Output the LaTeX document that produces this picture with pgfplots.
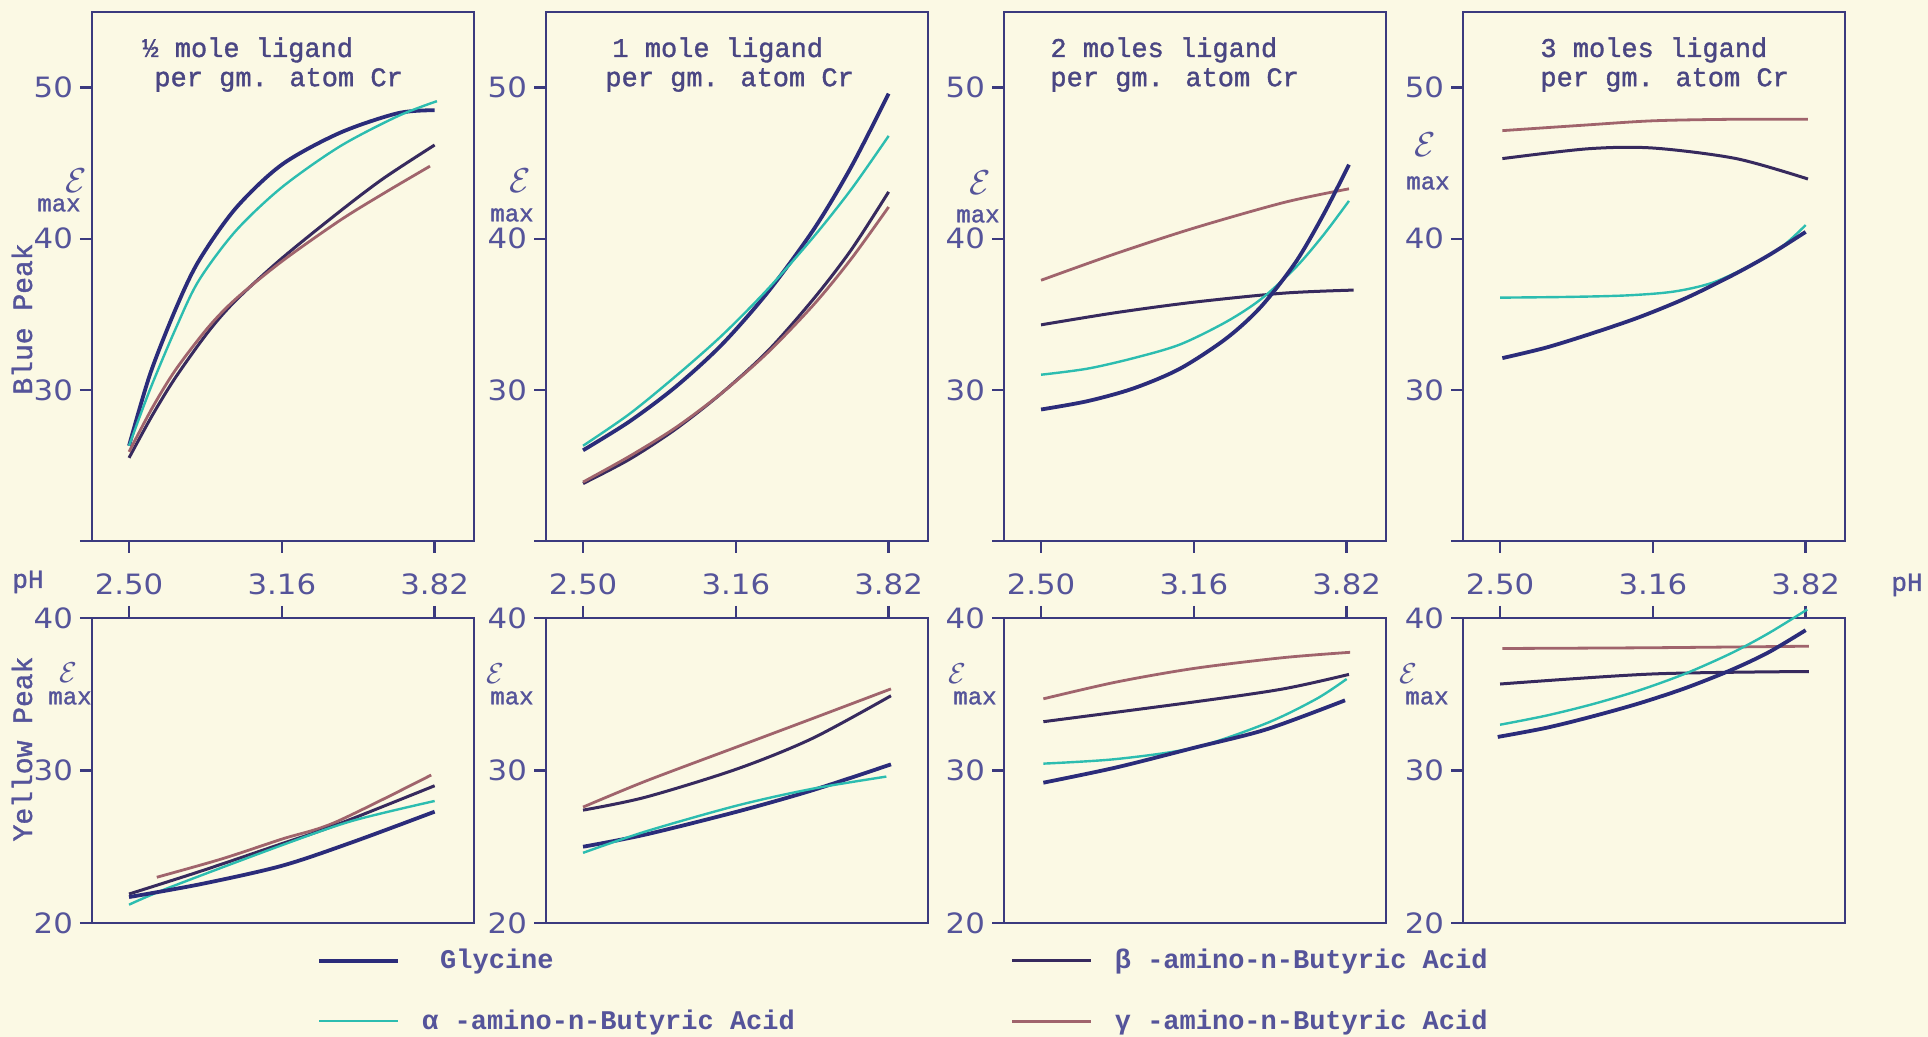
\documentclass[border=0pt]{standalone}
\usepackage{pgfplots}
\pgfplotsset{compat=1.18}
\usepackage{fontspec}
\setmainfont{Liberation Mono}
\newfontfamily\typefont{Liberation Mono}[FakeBold=1.3]
\newfontfamily\numfont{DejaVu Sans}[FakeStretch=1.1]
\definecolor{paper}{HTML}{FBF9E4}
\definecolor{frame}{HTML}{3B3A7E}
\definecolor{ink}{HTML}{55549A}
\definecolor{titleink}{HTML}{4A4683}
\definecolor{cGly}{HTML}{2B2C7A}
\definecolor{cAlp}{HTML}{2CBDB0}
\definecolor{cBet}{HTML}{372A5E}
\definecolor{cGam}{HTML}{A0646C}

\pgfplotsset{
  sGly/.style={color=cGly, line width=1.9pt},
  sAlp/.style={color=cAlp, line width=1.2pt},
  sBet/.style={color=cBet, line width=1.5pt},
  sGam/.style={color=cGam, line width=1.4pt},
  panel/.style={
    scale only axis, width=191pt, anchor=south west,
    xmin=2.34, xmax=3.99, xtick={2.50,3.16,3.82},
    axis line style={frame, line width=1.4pt},
    tick style={frame, line width=1.2pt},
    major tick length=6pt, tick align=outside,
    ytick pos=left,
    tick label style={font=\numfont\fontsize{14}{14}\selectfont, text=ink},
    clip=false, no markers,
    every axis plot/.append style={smooth},
  },
  toprow/.style={panel, height=264.5pt, ymin=20, ymax=55,
    ytick={20,30,40,50}, yticklabels={{},30,40,50},
    xtick pos=left, xticklabels={}},
  botrow/.style={panel, height=152.5pt, ymin=20, ymax=40,
    ytick={20,30,40}, yticklabels={20,30,40},
    xtick pos=right, xticklabel pos=right,
    xticklabels={2.50,3.16,3.82},
    xticklabel style={yshift=2pt}},
}

\begin{document}
\begin{tikzpicture}
\fill[paper] (0,0) rectangle (964pt,518.5pt);
\useasboundingbox (0,0) rectangle (964pt,518.5pt);

% ---------------- top row (Blue Peak) ----------------
\begin{axis}[toprow, at={(46pt,248pt)}]
\addplot[sGly] coordinates {(2.50,26.3) (2.59,31.0) (2.70,35.3) (2.80,38.5) (2.96,42.0) (3.16,44.9) (3.41,47.0) (3.66,48.3) (3.82,48.5)};
\addplot[sAlp] coordinates {(2.50,26.3) (2.59,30.0) (2.70,34.0) (2.80,37.2) (2.96,40.5) (3.16,43.4) (3.41,46.1) (3.66,48.1) (3.83,49.1)};
\addplot[sBet] coordinates {(2.50,25.5) (2.60,28.3) (2.70,30.8) (2.84,33.8) (2.96,35.9) (3.16,38.7) (3.41,41.8) (3.60,44.0) (3.82,46.2)};
\addplot[sGam] coordinates {(2.50,25.9) (2.60,28.8) (2.70,31.3) (2.84,34.1) (2.96,36.0) (3.16,38.5) (3.41,41.2) (3.60,43.0) (3.80,44.8)};
\end{axis}

\begin{axis}[toprow, at={(273pt,248pt)}]
\addplot[sGly] coordinates {(2.50,26.0) (2.70,27.9) (2.90,30.2) (3.10,33.0) (3.30,36.5) (3.50,40.7) (3.66,44.8) (3.82,49.6)};
\addplot[sAlp] coordinates {(2.50,26.3) (2.70,28.4) (2.90,30.9) (3.10,33.6) (3.30,36.7) (3.50,40.2) (3.66,43.3) (3.82,46.8)};
\addplot[sBet] coordinates {(2.50,23.8) (2.70,25.4) (2.90,27.4) (3.10,29.8) (3.30,32.6) (3.50,36.1) (3.66,39.3) (3.82,43.1)};
\addplot[sGam] coordinates {(2.50,23.9) (2.70,25.6) (2.90,27.5) (3.10,29.8) (3.30,32.5) (3.50,35.7) (3.66,38.7) (3.82,42.1)};
\end{axis}

\begin{axis}[toprow, at={(502pt,248pt)}]
\addplot[sGam] coordinates {(2.50,37.25) (2.82,39.0) (3.16,40.7) (3.55,42.4) (3.83,43.3)};
\addplot[sBet] coordinates {(2.50,34.3) (2.82,35.1) (3.16,35.8) (3.55,36.4) (3.85,36.6)};
\addplot[sAlp] coordinates {(2.50,31.0) (2.70,31.4) (2.90,32.1) (3.10,33.0) (3.30,34.5) (3.45,36.0) (3.60,38.1) (3.72,40.25) (3.83,42.5)};
\addplot[sGly] coordinates {(2.50,28.7) (2.70,29.25) (2.90,30.1) (3.10,31.4) (3.30,33.4) (3.45,35.5) (3.60,38.45) (3.72,41.6) (3.83,44.9)};
\end{axis}

\begin{axis}[toprow, at={(731.5pt,248pt)}]
\addplot[sGam] coordinates {(2.51,47.15) (2.85,47.5) (3.16,47.8) (3.50,47.9) (3.83,47.9)};
\addplot[sBet] coordinates {(2.51,45.3) (2.88,45.95) (3.16,46.0) (3.52,45.3) (3.83,43.95)};
\addplot[sAlp] coordinates {(2.50,36.1) (2.80,36.15) (3.05,36.25) (3.25,36.5) (3.42,37.1) (3.59,38.3) (3.72,39.5) (3.82,40.9)};
\addplot[sGly] coordinates {(2.51,32.1) (2.70,32.8) (2.90,33.75) (3.10,34.8) (3.30,36.05) (3.50,37.55) (3.66,38.9) (3.82,40.45)};
\end{axis}

% ---------------- bottom row (Yellow Peak) ----------------
\begin{axis}[botrow, at={(46pt,57pt)},
  legend columns=2,
  legend cell align=left,
  legend image code/.code={\draw[#1] (0pt,0pt) -- (39.5pt,0pt);},
  legend style={at={(axis description cs:0.589,-0.085)}, anchor=north west,
    draw=none, fill=none, inner sep=0pt,
    nodes={inner sep=0pt, text=ink, font=\bfseries\fontsize{13.5}{14}\selectfont},
    /tikz/every odd column/.append style={column sep=11pt},
    /tikz/column 2/.append style={column sep=108pt},
    row sep=19pt}]
\addlegendimage{sGly}\addlegendentry{\hspace{9pt}Glycine}
\addlegendimage{sBet}\addlegendentry{β -amino-n-Butyric Acid}
\addlegendimage{sAlp}\addlegendentry{α -amino-n-Butyric Acid}
\addlegendimage{sGam}\addlegendentry{γ -amino-n-Butyric Acid}
\addplot[sGam, forget plot] coordinates {(2.62,23.0) (2.90,24.2) (3.16,25.5) (3.39,26.6) (3.805,29.7)};
\addplot[sBet, forget plot] coordinates {(2.50,21.9) (2.81,23.4) (3.16,25.2) (3.39,26.4) (3.82,29.0)};
\addplot[sAlp, forget plot] coordinates {(2.50,21.2) (2.67,22.3) (3.16,25.1) (3.465,26.7) (3.82,28.0)};
\addplot[sGly, forget plot] coordinates {(2.50,21.7) (2.81,22.55) (3.16,23.75) (3.465,25.3) (3.82,27.3)};
\end{axis}

\begin{axis}[botrow, at={(273pt,57pt)}]
\addplot[sGam] coordinates {(2.50,27.6) (2.77,29.3) (3.165,31.55) (3.49,33.4) (3.83,35.35)};
\addplot[sBet] coordinates {(2.50,27.4) (2.77,28.25) (3.165,30.1) (3.49,32.1) (3.83,34.9)};
\addplot[sGly] coordinates {(2.50,25.0) (2.77,25.8) (3.165,27.3) (3.49,28.7) (3.83,30.4)};
\addplot[sAlp] coordinates {(2.50,24.6) (2.77,26.0) (3.165,27.7) (3.49,28.8) (3.81,29.6)};
\end{axis}

\begin{axis}[botrow, at={(502pt,57pt)}]
\addplot[sGam] coordinates {(2.51,34.7) (2.825,35.8) (3.164,36.7) (3.546,37.4) (3.835,37.75)};
\addplot[sBet] coordinates {(2.51,33.2) (3.164,34.5) (3.546,35.35) (3.83,36.3)};
\addplot[sAlp] coordinates {(2.51,30.45) (2.825,30.75) (3.164,31.5) (3.474,33.1) (3.69,34.7) (3.82,36.0)};
\addplot[sGly] coordinates {(2.51,29.2) (2.825,30.2) (3.164,31.5) (3.474,32.7) (3.813,34.6)};
\end{axis}

\begin{axis}[botrow, at={(731.5pt,57pt)}]
\addplot[sGam] coordinates {(2.51,38.0) (3.16,38.05) (3.834,38.15)};
\addplot[sBet] coordinates {(2.50,35.67) (3.16,36.33) (3.834,36.49)};
\addplot[sAlp] coordinates {(2.50,33.0) (2.70,33.6) (2.90,34.35) (3.10,35.25) (3.30,36.35) (3.50,37.7) (3.66,39.0) (3.827,40.56)};
\addplot[sGly] coordinates {(2.49,32.2) (2.70,32.8) (2.90,33.55) (3.10,34.4) (3.30,35.4) (3.50,36.6) (3.66,37.75) (3.82,39.2)};
\end{axis}

% ---------------- text ----------------
\begin{scope}[every node/.style={text=titleink, font=\typefont\fontsize{13.5}{14}\selectfont, inner sep=0pt}]
\node[anchor=west] at (71pt,493.5pt) {½ mole ligand};
\node[anchor=west] at (77pt,478.5pt) {per gm. atom Cr};
\node[anchor=west] at (306pt,493.5pt) {1 mole ligand};
\node[anchor=west] at (302.5pt,478.5pt) {per gm. atom Cr};
\node[anchor=west] at (525pt,493.5pt) {2 moles ligand};
\node[anchor=west] at (525pt,478.5pt) {per gm. atom Cr};
\node[anchor=west] at (770pt,493.5pt) {3 moles ligand};
\node[anchor=west] at (770pt,478.5pt) {per gm. atom Cr};
\end{scope}

\begin{scope}[every node/.style={text=ink, inner sep=0pt}]
% epsilon max, top row
\node[font=\fontsize{19}{19}\selectfont] at (38pt,428pt) {$\mathcal{E}$};
\node[font=\typefont\fontsize{12}{12}\selectfont] at (29.5pt,416pt) {max};
\node[font=\fontsize{19}{19}\selectfont] at (260pt,428pt) {$\mathcal{E}$};
\node[font=\typefont\fontsize{12}{12}\selectfont] at (256pt,411pt) {max};
\node[font=\fontsize{19}{19}\selectfont] at (490pt,427pt) {$\mathcal{E}$};
\node[font=\typefont\fontsize{12}{12}\selectfont] at (489pt,410.5pt) {max};
\node[font=\fontsize{19}{19}\selectfont] at (712.5pt,446pt) {$\mathcal{E}$};
\node[font=\typefont\fontsize{12}{12}\selectfont] at (714pt,427pt) {max};
% epsilon max, bottom row
\node[font=\fontsize{14}{14}\selectfont] at (34pt,182pt) {$\mathcal{E}$};
\node[font=\typefont\fontsize{12}{12}\selectfont] at (35pt,169.5pt) {max};
\node[font=\fontsize{14}{14}\selectfont] at (247.5pt,181.5pt) {$\mathcal{E}$};
\node[font=\typefont\fontsize{12}{12}\selectfont] at (256pt,169.5pt) {max};
\node[font=\fontsize{14}{14}\selectfont] at (478.5pt,181.5pt) {$\mathcal{E}$};
\node[font=\typefont\fontsize{12}{12}\selectfont] at (487.5pt,169.5pt) {max};
\node[font=\fontsize{14}{14}\selectfont] at (704pt,181.5pt) {$\mathcal{E}$};
\node[font=\typefont\fontsize{12}{12}\selectfont] at (713.5pt,169.5pt) {max};
% side labels
\node[rotate=90, font=\typefont\fontsize{14}{14}\selectfont] at (11pt,359pt) {Blue Peak};
\node[rotate=90, font=\typefont\fontsize{14}{14}\selectfont] at (11pt,144pt) {Yellow Peak};
\node[font=\typefont\fontsize{13}{13}\selectfont] at (14pt,227.5pt) {pH};
\node[font=\typefont\fontsize{13}{13}\selectfont] at (953.5pt,226pt) {pH};
\end{scope}
\end{tikzpicture}
\end{document}
